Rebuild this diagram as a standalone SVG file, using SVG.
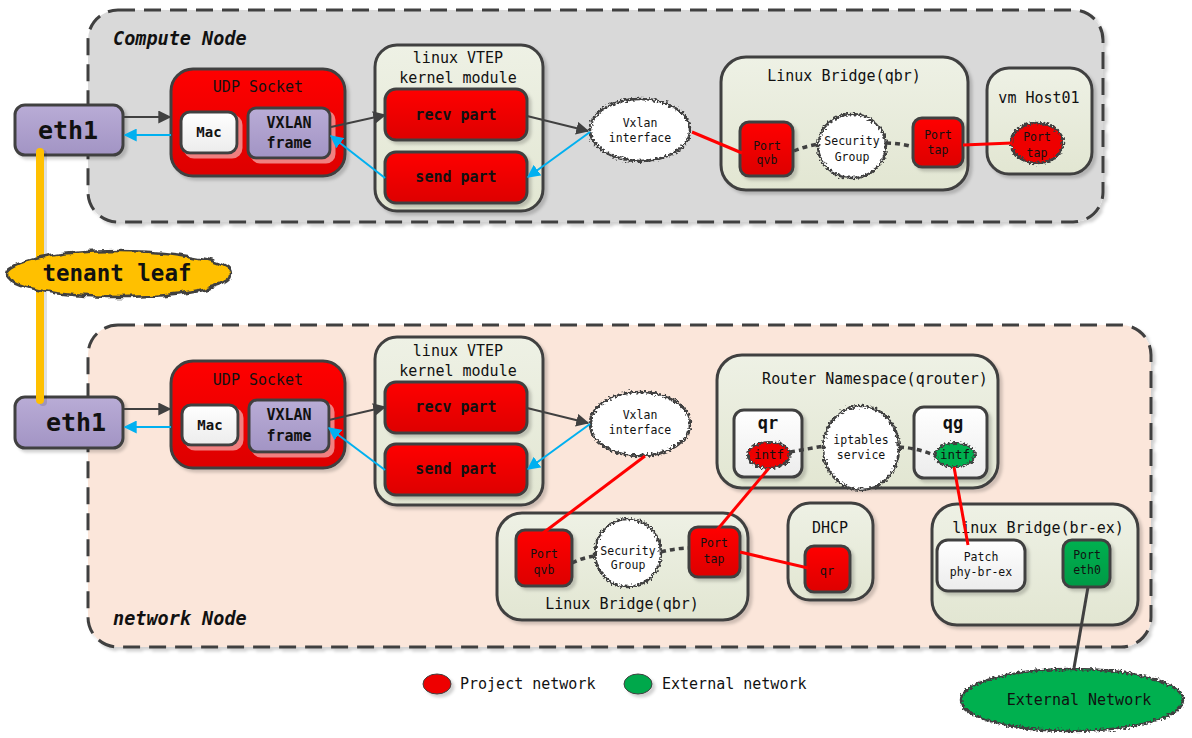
<svg xmlns="http://www.w3.org/2000/svg" width="1192" height="738" viewBox="0 0 1192 738">
<defs>
<linearGradient id="gRed" x1="0" y1="0" x2="0" y2="1"><stop offset="0" stop-color="#FF0000"/><stop offset="1" stop-color="#DD0000"/></linearGradient>
<linearGradient id="gLav" x1="0" y1="0" x2="0" y2="1"><stop offset="0" stop-color="#B9ACD6"/><stop offset="1" stop-color="#A294C4"/></linearGradient>
<linearGradient id="gPale" x1="0" y1="0" x2="0" y2="1"><stop offset="0" stop-color="#EEF1E5"/><stop offset="1" stop-color="#E2E6D2"/></linearGradient>
<linearGradient id="gWhite" x1="0" y1="0" x2="0" y2="1"><stop offset="0" stop-color="#FFFFFF"/><stop offset="1" stop-color="#ECECEC"/></linearGradient>
<linearGradient id="gGreen" x1="0" y1="0" x2="0" y2="1"><stop offset="0" stop-color="#00B050"/><stop offset="1" stop-color="#009A45"/></linearGradient>
<filter id="sh" x="-20%" y="-20%" width="150%" height="150%"><feDropShadow dx="3" dy="3" stdDeviation="1.5" flood-color="#000" flood-opacity="0.18"/></filter>
<filter id="shr" x="-20%" y="-20%" width="150%" height="150%"><feDropShadow dx="4" dy="4" stdDeviation="0.5" flood-color="#F08080" flood-opacity="1"/></filter>
<filter id="rough" x="-15%" y="-15%" width="130%" height="130%"><feTurbulence type="fractalNoise" baseFrequency="0.45" numOctaves="1" seed="4" result="n"/><feDisplacementMap in="SourceGraphic" in2="n" scale="7" xChannelSelector="R" yChannelSelector="G"/></filter>
<filter id="rough2" x="-15%" y="-25%" width="130%" height="150%"><feTurbulence type="fractalNoise" baseFrequency="0.08" numOctaves="2" seed="7" result="n"/><feDisplacementMap in="SourceGraphic" in2="n" scale="8" xChannelSelector="R" yChannelSelector="G"/></filter>
<marker id="aD" viewBox="0 0 10 10" refX="9" refY="5" markerWidth="13" markerHeight="13" markerUnits="userSpaceOnUse" orient="auto"><path d="M0,0 L10,5 L0,10 z" fill="#404040"/></marker>
<marker id="aB" viewBox="0 0 10 10" refX="9" refY="5" markerWidth="13" markerHeight="13" markerUnits="userSpaceOnUse" orient="auto"><path d="M0,0 L10,5 L0,10 z" fill="#00B0F0"/></marker>
<style>
text{font-family:"DejaVu Sans Mono","Liberation Mono",monospace;fill:#111;}
.c{text-anchor:middle;}
.b{font-weight:bold;}
.t15{font-size:15px;}
.t11{font-size:11.5px;}
.cont{stroke:#404040;stroke-width:3;stroke-dasharray:17 9;}
.bx{stroke:#404040;stroke-width:3;}
.red{fill:url(#gRed);}
.lav{fill:url(#gLav);}
.pale{fill:url(#gPale);}
.wh{fill:url(#gWhite);}
.grn{fill:url(#gGreen);}
.dk{stroke:#404040;stroke-width:2;fill:none;}
.bl{stroke:#00B0F0;stroke-width:2;fill:none;}
.rl{stroke:#FF0000;stroke-width:3;fill:none;}
.dot{stroke:#404040;stroke-width:3.5;stroke-dasharray:5 4;fill:none;}
.cl{fill:#fff;stroke:#404040;stroke-width:2.5;}
</style>
</defs>

<!-- containers -->
<g id="compute-node">
<rect x="88" y="10" width="1015" height="212" rx="30" fill="#D9D9D9" class="cont" filter="url(#sh)"/>
<text x="113" y="45" class="b" font-size="18.5" font-style="italic">Compute Node</text>
</g>
<g id="network-node">
<rect x="88" y="325" width="1063" height="322" rx="30" fill="#FBE6DA" class="cont" filter="url(#sh)"/>
<text x="113" y="625" class="b" font-size="18.5" font-style="italic">network Node</text>
</g>

<!-- eth1 boxes -->
<g id="c-eth1"><rect x="15" y="105" width="108" height="50" rx="10" class="bx lav" filter="url(#sh)"/><text x="68" y="139" class="c b" font-size="25">eth1</text></g>
<g id="n-eth1"><rect x="15" y="397" width="108" height="51" rx="10" class="bx lav" filter="url(#sh)"/><text x="76" y="431" class="c b" font-size="25">eth1</text></g>

<!-- tenant leaf line -->
<g id="tenant-link">
<line x1="43" y1="154" x2="43" y2="402" stroke="#000" stroke-opacity="0.12" stroke-width="8" stroke-linecap="round"/>
<line x1="40" y1="152" x2="40" y2="400" stroke="#FFC000" stroke-width="8" stroke-linecap="round"/>
</g>
<g id="tenant-leaf">
<ellipse cx="119" cy="274" rx="112" ry="23" fill="#FFC000" stroke="#404040" stroke-width="2.5" filter="url(#rough2)"/>
<text x="117" y="281" class="c b" font-size="22.5">tenant leaf</text>
</g>

<!-- compute node nodes -->
<g id="c-udp"><rect x="171" y="69" width="174" height="107" rx="22" class="bx red" filter="url(#sh)"/><text x="258" y="92" class="c t15" fill="#111">UDP Socket</text></g>
<g id="c-mac"><rect x="181" y="112" width="56" height="41" rx="9" class="bx wh" filter="url(#shr)"/><text x="209" y="137" class="c b" font-size="14">Mac</text></g>
<g id="c-vxframe"><rect x="248" y="108" width="82" height="50" rx="8" class="bx lav" filter="url(#shr)"/><text x="289" y="128" class="c b t15">VXLAN</text><text x="289" y="148" class="c b t15">frame</text></g>
<g id="c-vtep"><rect x="375" y="45" width="168" height="166" rx="22" class="bx pale" filter="url(#sh)"/><text x="458" y="63" class="c t15">linux VTEP</text><text x="458" y="83" class="c t15">kernel module</text></g>
<g id="c-recv"><rect x="385" y="89" width="142" height="51" rx="11" class="bx red" filter="url(#sh)"/><text x="456" y="120" class="c b t15">recv part</text></g>
<g id="c-send"><rect x="385" y="152" width="142" height="51" rx="11" class="bx red" filter="url(#sh)"/><text x="456" y="182" class="c b t15">send part</text></g>
<g id="c-vxif"><ellipse cx="640" cy="130" rx="50" ry="31" class="cl" filter="url(#rough)"/><text x="640" y="127" class="c t11">Vxlan</text><text x="640" y="142" class="c t11">interface</text></g>
<g id="c-qbr"><rect x="721" y="57" width="247" height="133" rx="25" class="bx pale" filter="url(#sh)"/><text x="844" y="81" class="c t15">Linux Bridge(qbr)</text></g>
<g id="c-qvb"><rect x="740" y="122" width="53" height="54" rx="9" class="bx red" filter="url(#sh)"/><text x="767" y="150" class="c t11">Port</text><text x="767" y="164" class="c t11">qvb</text></g>
<g id="c-sg"><ellipse cx="852" cy="146" rx="34" ry="32" class="cl" filter="url(#rough)"/><text x="852" y="145" class="c t11">Security</text><text x="852" y="161" class="c t11">Group</text></g>
<g id="c-tap"><rect x="913" y="118" width="50" height="49" rx="9" class="bx red" filter="url(#sh)"/><text x="938" y="139" class="c t11">Port</text><text x="938" y="154" class="c t11">tap</text></g>
<g id="c-vm"><rect x="987" y="68" width="105" height="106" rx="22" class="bx pale" filter="url(#sh)"/><text x="1039" y="103" class="c t15">vm Host01</text></g>
<g id="c-vmtap"><ellipse cx="1037" cy="143" rx="26" ry="20" fill="#EE0000" stroke="#404040" stroke-width="2.5" filter="url(#rough)"/><text x="1037" y="141" class="c t11">Port</text><text x="1037" y="157" class="c t11">tap</text></g>

<!-- network node nodes -->
<g id="n-udp"><rect x="171" y="361" width="174" height="107" rx="22" class="bx red" filter="url(#sh)"/><text x="258" y="385" class="c t15">UDP Socket</text></g>
<g id="n-mac"><rect x="182" y="405" width="56" height="40" rx="9" class="bx wh" filter="url(#shr)"/><text x="210" y="430" class="c b" font-size="14">Mac</text></g>
<g id="n-vxframe"><rect x="249" y="400" width="80" height="52" rx="8" class="bx lav" filter="url(#shr)"/><text x="289" y="420" class="c b t15">VXLAN</text><text x="289" y="441" class="c b t15">frame</text></g>
<g id="n-vtep"><rect x="375" y="337" width="168" height="168" rx="22" class="bx pale" filter="url(#sh)"/><text x="458" y="356" class="c t15">linux VTEP</text><text x="458" y="376" class="c t15">kernel module</text></g>
<g id="n-recv"><rect x="385" y="382" width="142" height="51" rx="11" class="bx red" filter="url(#sh)"/><text x="456" y="412" class="c b t15">recv part</text></g>
<g id="n-send"><rect x="385" y="444" width="142" height="51" rx="11" class="bx red" filter="url(#sh)"/><text x="456" y="474" class="c b t15">send part</text></g>
<g id="n-vxif"><ellipse cx="640" cy="424" rx="50" ry="32" class="cl" filter="url(#rough)"/><text x="640" y="419" class="c t11">Vxlan</text><text x="640" y="434" class="c t11">interface</text></g>
<g id="n-router"><rect x="717" y="355" width="281" height="133" rx="25" class="bx pale" filter="url(#sh)"/><text x="875" y="384" class="c t15">Router Namespace(qrouter)</text></g>
<g id="n-qr"><rect x="734" y="410" width="68" height="67" rx="10" class="bx wh" filter="url(#sh)"/><text x="768" y="429" class="c b" font-size="17">qr</text></g>
<g id="n-qrintf"><ellipse cx="769" cy="455" rx="21" ry="13" fill="#EE0000" stroke="#404040" stroke-width="2" filter="url(#rough)"/><text x="769" y="459" class="c" font-size="12.5">intf</text></g>
<g id="n-ipt"><ellipse cx="861" cy="448" rx="38" ry="42" class="cl" filter="url(#rough)"/><text x="861" y="444" class="c t11">iptables</text><text x="861" y="459" class="c t11">service</text></g>
<g id="n-qg"><rect x="914" y="407" width="73" height="71" rx="10" class="bx wh" filter="url(#sh)"/><text x="953" y="429" class="c b" font-size="17">qg</text></g>
<g id="n-qgintf"><ellipse cx="955" cy="455" rx="20" ry="12" fill="#00B050" stroke="#404040" stroke-width="2" filter="url(#rough)"/><text x="955" y="459" class="c" font-size="12.5">intf</text></g>
<g id="n-qbr"><rect x="497" y="513" width="251" height="107" rx="25" class="bx pale" filter="url(#sh)"/><text x="622" y="609" class="c t15">Linux Bridge(qbr)</text></g>
<g id="n-qvb"><rect x="516" y="530" width="56" height="56" rx="9" class="bx red" filter="url(#sh)"/><text x="544" y="558" class="c t11">Port</text><text x="544" y="574" class="c t11">qvb</text></g>
<g id="n-sg"><ellipse cx="628" cy="553" rx="33" ry="34" class="cl" filter="url(#rough)"/><text x="628" y="555" class="c t11">Security</text><text x="628" y="569" class="c t11">Group</text></g>
<g id="n-tap"><rect x="689" y="527" width="51" height="50" rx="9" class="bx red" filter="url(#sh)"/><text x="714" y="547" class="c t11">Port</text><text x="714" y="563" class="c t11">tap</text></g>
<g id="n-dhcp"><rect x="788" y="503" width="85" height="97" rx="22" class="bx pale" filter="url(#sh)"/><text x="830" y="533" class="c t15">DHCP</text></g>
<g id="n-dhcpqr"><rect x="805" y="546" width="45" height="46" rx="9" class="bx red" filter="url(#sh)"/><text x="827" y="575" class="c" font-size="12">qr</text></g>
<g id="n-brex"><rect x="932" y="504" width="206" height="121" rx="25" class="bx pale" filter="url(#sh)"/><text x="1038" y="533" class="c t15">linux Bridge(br-ex)</text></g>
<g id="n-patch"><rect x="937" y="540" width="88" height="51" rx="11" class="bx wh" filter="url(#sh)"/><text x="981" y="561" class="c t11">Patch</text><text x="981" y="576" class="c t11">phy-br-ex</text></g>
<g id="n-eth0"><rect x="1063" y="540" width="47" height="47" rx="9" class="bx grn" filter="url(#sh)"/><text x="1087" y="559" class="c t11">Port</text><text x="1087" y="574" class="c t11">eth0</text></g>
<g id="ext-net"><ellipse cx="1072" cy="700" rx="111" ry="31" fill="#00B050" stroke="#404040" stroke-width="2.5" filter="url(#rough)"/><text x="1079" y="705" class="c t15">External Network</text></g>

<!-- legend -->
<g id="legend">
<ellipse cx="437" cy="684" rx="14" ry="10" fill="#EE0000" stroke="#404040" stroke-width="1" filter="url(#sh)"/>
<text x="460" y="689" class="t15">Project network</text>
<ellipse cx="638" cy="684" rx="14" ry="10" fill="#00A84C" stroke="#404040" stroke-width="1" filter="url(#sh)"/>
<text x="662" y="689" class="t15">External network</text>
</g>

<!-- connectors -->
<g id="connectors">
<path d="M124,117 L170,117" class="dk" marker-end="url(#aD)"/>
<path d="M171,135 L125,135" class="bl" marker-end="url(#aB)"/>
<path d="M331,127 L385,115" class="dk" marker-end="url(#aD)"/>
<path d="M385,178 L331,136" class="bl" marker-end="url(#aB)"/>
<path d="M527,116 L588,131" class="dk" marker-end="url(#aD)"/>
<path d="M590,132 L528,177" class="bl" marker-end="url(#aB)"/>
<path d="M692,132 L742,153" class="rl"/>
<path d="M794,151 Q806,146 819,144" class="dot"/>
<path d="M886,143 Q900,143 913,147" class="dot"/>
<path d="M963,145 L1012,143" class="rl"/>

<path d="M124,409 L170,409" class="dk" marker-end="url(#aD)"/>
<path d="M171,427 L125,427" class="bl" marker-end="url(#aB)"/>
<path d="M329,420 L385,407" class="dk" marker-end="url(#aD)"/>
<path d="M385,470 L329,428" class="bl" marker-end="url(#aB)"/>
<path d="M527,408 L588,423" class="dk" marker-end="url(#aD)"/>
<path d="M590,424 L528,469" class="bl" marker-end="url(#aB)"/>
<path d="M645,456 L543,533" class="rl"/>
<path d="M769,468 L717,530" class="rl"/>
<path d="M954,467 L968,545" class="rl"/>
<path d="M740,552 L808,568" class="rl"/>
<path d="M790,452 L824,446" class="dot"/>
<path d="M899,447 Q918,448 936,456" class="dot"/>
<path d="M572,563 Q584,557 596,556" class="dot"/>
<path d="M661,552 Q676,548 690,548" class="dot"/>
<path d="M1088,587 L1074,668" stroke="#404040" stroke-width="3" fill="none"/>
</g>
</svg>
